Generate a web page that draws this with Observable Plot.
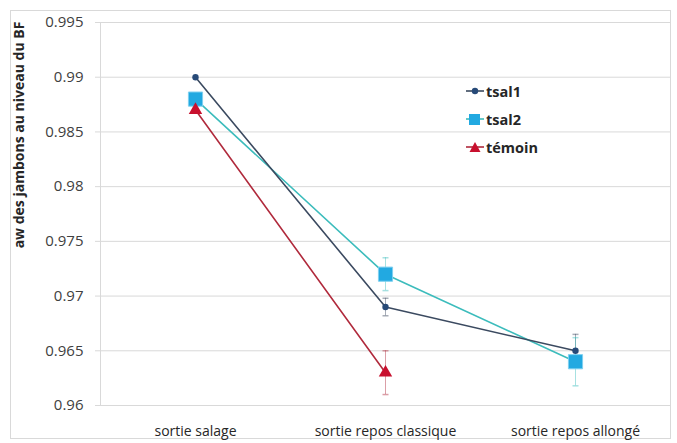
<!DOCTYPE html>
<html>
<head>
<meta charset="utf-8">
<script src="https://cdn.jsdelivr.net/npm/d3@7"></script>
<script src="https://cdn.jsdelivr.net/npm/@observablehq/plot@0.6"></script>
<style>
  html, body { margin: 0; padding: 0; background: #fff; }
  #wrap { position: relative; width: 677px; height: 443px; overflow: hidden; font-family: "Open Sans", sans-serif; }
  #border { position: absolute; left: 10px; top: 10px; width: 661px; height: 429px; border: 1px solid #d9d9d9; box-sizing: border-box; }
  #chart { position: absolute; left: 0; top: 0; }
  #ytitle { position: absolute; left: 18px; top: 135px; transform: translate(-50%, -50%) rotate(-90deg); white-space: nowrap; font-weight: bold; font-size: 14px; color: #262626; }
  #legend { position: absolute; left: 466px; top: 77px; font-weight: bold; font-size: 14.5px; color: #262626; }
  #legend div { display: flex; align-items: center; height: 28px; }
  #legend svg { margin-right: 2px; }
</style>
</head>
<body>
<div id="wrap">
  <div id="border"></div>
  <div id="chart"></div>
  <div id="ytitle">aw des jambons au niveau du BF</div>
  <div id="legend"></div>
</div>
<script>
const categories = ["sortie salage", "sortie repos classique", "sortie repos allongé"];
const seriesNames = ["tsal1", "tsal2", "témoin"];
const tsal1 = [0.990, 0.969, 0.965];
const tsal2 = [0.988, 0.972, 0.964];
const temoin = [0.987, 0.963, null];
const tsal1Err = [0, 0.0008, 0.0015];
const tsal2Err = [0, 0.0015, 0.0022];
const temoinErr = [0, 0.002, null];
const yTicks = [0.96, 0.965, 0.97, 0.975, 0.98, 0.985, 0.99, 0.995];

const lineColors = {"tsal1": "#3b4a60", "tsal2": "#3cbcbc", "témoin": "#b02a3c"};
const markColors = {"tsal1": "#274a78", "tsal2": "#22a9e1", "témoin": "#c8102e"};
const symbols = {"tsal1": "circle", "tsal2": "square", "témoin": "triangle"};
const radius = {"tsal1": 3.2, "tsal2": 8, "témoin": 5};

const values = [tsal1, tsal2, temoin];
const errs = [tsal1Err, tsal2Err, temoinErr];
const data = [];
seriesNames.forEach((s, i) => {
  categories.forEach((c, j) => {
    if (values[i][j] != null) data.push({series: s, cat: c, v: values[i][j], e: errs[i][j]});
  });
});
const errData = data.filter(d => d.e > 0);

const cap = { draw(ctx, size) { const w = 3; ctx.moveTo(-w, 0); ctx.lineTo(w, 0); } };

const order = ["tsal1", "tsal2", "témoin"];
const marks = [
  Plot.gridY(yTicks, {stroke: "#d9d9d9", strokeOpacity: 1}),
  Plot.frame({anchor: "left", stroke: "#d9d9d9"}),
  Plot.axisY({ticks: yTicks, tickSize: 5, tickPadding: 12, stroke: "#d9d9d9", tickFormat: d => String(+d.toFixed(3)), label: null, fontSize: 15, fill: "#404040"}),
  Plot.axisX({tickSize: 0, tickPadding: 21, label: null, fontSize: 14, fill: "#262626"}),
  Plot.ruleX(errData, {x: "cat", y1: d => d.v - d.e, y2: d => d.v + d.e, stroke: d => lineColors[d.series], strokeOpacity: 0.45, strokeWidth: 1}),
  Plot.dot(errData, {x: "cat", y: d => d.v + d.e, symbol: cap, r: 3, stroke: d => lineColors[d.series], strokeOpacity: 0.45}),
  Plot.dot(errData, {x: "cat", y: d => d.v - d.e, symbol: cap, r: 3, stroke: d => lineColors[d.series], strokeOpacity: 0.45})
];
for (const s of ["témoin", "tsal2", "tsal1"]) {
  const d = data.filter(r => r.series === s);
  marks.push(Plot.line(d, {x: "cat", y: "v", stroke: lineColors[s], strokeWidth: 1.6}));
}
for (const s of ["tsal2", "témoin", "tsal1"]) {
  const d = data.filter(r => r.series === s);
  marks.push(Plot.dot(d, {x: "cat", y: "v", symbol: symbols[s], r: radius[s], fill: markColors[s], stroke: s === "tsal2" ? "#7fd0f0" : "none", strokeWidth: 1}));
}

const chart = Plot.plot({
  width: 677,
  height: 443,
  marginLeft: 100,
  marginRight: 7,
  marginTop: 22,
  marginBottom: 38,
  style: {fontFamily: "Open Sans, sans-serif", background: "transparent", overflow: "visible"},
  x: {type: "point", domain: categories, padding: 0.5},
  y: {domain: [0.96, 0.995]},
  marks
});
document.getElementById("chart").appendChild(chart);

// legend
const legend = document.getElementById("legend");
order.forEach(s => {
  const row = document.createElement("div");
  const sym = s === "tsal1"
    ? `<circle cx="9" cy="8" r="3.2" fill="${markColors[s]}"/>`
    : s === "tsal2"
      ? `<rect x="3" y="3" width="11" height="11" fill="${markColors[s]}"/>`
      : `<path d="M9,3 L14.5,13 L3.5,13 Z" fill="${markColors[s]}"/>`;
  row.innerHTML = `<svg width="18" height="16"><line x1="0" x2="18" y1="8" y2="8" stroke="${lineColors[s]}" stroke-width="1.6"/>${sym}</svg><span>${s}</span>`;
  legend.appendChild(row);
});
</script>
</body>
</html>
